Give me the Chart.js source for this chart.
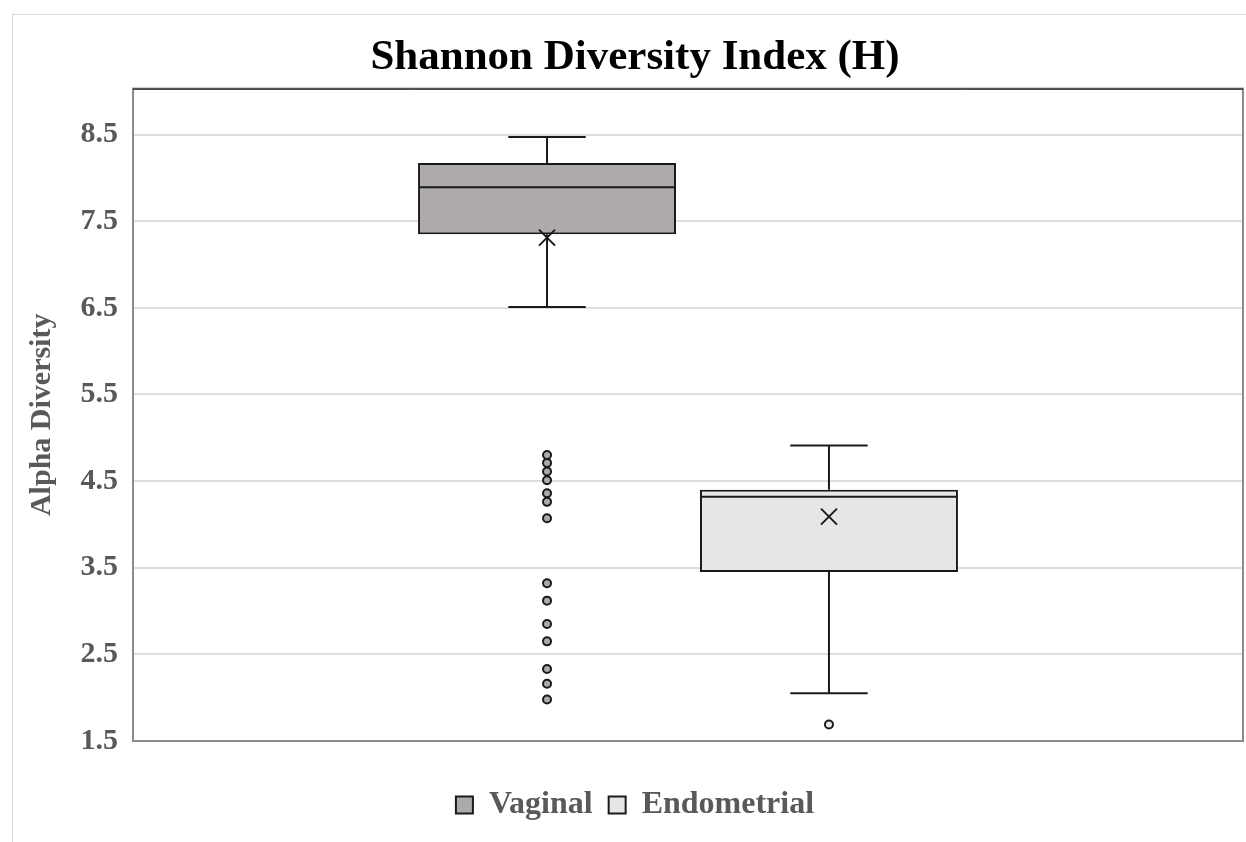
<!DOCTYPE html>
<html>
<head>
<meta charset="utf-8">
<script src="https://cdn.jsdelivr.net/npm/chart.js@4/dist/chart.umd.min.js"></script>
<style>
  html, body { margin: 0; padding: 0; background: #fff; overflow: hidden; }
  .frame { position: absolute; left: 12px; top: 14px; width: 1246px; height: 828px;
           border-left: 1px solid #d9d9d9; border-top: 1px solid #d9d9d9; }
  canvas { display: block; }
</style>
</head>
<body>
<div class="frame"><canvas id="boxChart"></canvas></div>
<script>
"use strict"

// values
const groups = ["Vaginal", "Endometrial"];
const fills = ["#aeaaaa", "#e7e6e6"];
const whiskerLow = [6.51, 2.05];
const q1 = [7.35, 3.45];
const medians = [7.89, 4.32];
const q3 = [8.17, 4.40];
const whiskerHigh = [8.47, 4.91];
const means = [7.31, 4.09];
const vaginalOutliers = [4.80, 4.71, 4.61, 4.51, 4.36, 4.26, 4.07, 3.32, 3.12, 2.85, 2.65, 2.33, 2.16, 1.98];
const endometrialOutliers = [1.69];
const outliers = [vaginalOutliers, endometrialOutliers];
const yTicks = [1.5, 2.5, 3.5, 4.5, 5.5, 6.5, 7.5, 8.5];

const serif = "'Liberation Serif', 'Times New Roman', serif";
const textGray = "#595959";

// whiskers, median, mean and outliers on top of the floating bars
const boxPlotParts = {
    id: 'boxPlotParts',
    afterDatasetsDraw(chart) {
        const ctx = chart.ctx;
        const yScale = chart.scales.y;
        chart.data.datasets.forEach((ds, i) => {
            const bar = chart.getDatasetMeta(i).data[0];
            const x = bar.x;
            const half = bar.width / 2;
            const cap = bar.width * 0.15;
            const py = v => yScale.getPixelForValue(v);

            ctx.save();
            ctx.strokeStyle = '#1a1a1a';
            ctx.lineWidth = 2;
            ctx.beginPath();
            ctx.moveTo(x, py(q3[i])); ctx.lineTo(x, py(whiskerHigh[i]));
            ctx.moveTo(x, py(q1[i])); ctx.lineTo(x, py(whiskerLow[i]));
            ctx.moveTo(x - cap, py(whiskerHigh[i])); ctx.lineTo(x + cap, py(whiskerHigh[i]));
            ctx.moveTo(x - cap, py(whiskerLow[i])); ctx.lineTo(x + cap, py(whiskerLow[i]));
            ctx.moveTo(x - half + 1, py(medians[i])); ctx.lineTo(x + half - 1, py(medians[i]));
            ctx.stroke();

            // mean marker
            const my = py(means[i]);
            ctx.beginPath();
            ctx.moveTo(x - 8, my - 8); ctx.lineTo(x + 8, my + 8);
            ctx.moveTo(x - 8, my + 8); ctx.lineTo(x + 8, my - 8);
            ctx.stroke();

            // outliers
            ctx.fillStyle = fills[i];
            outliers[i].forEach(v => {
                ctx.beginPath();
                ctx.arc(x, py(v), 4, 0, Math.PI * 2);
                ctx.fill();
                ctx.stroke();
            });
            ctx.restore();
        });
    }
};

const plotFrame = {
    id: 'plotFrame',
    afterDraw(chart) {
        const { left, top, right, bottom } = chart.chartArea;
        const ctx = chart.ctx;
        ctx.save();
        ctx.strokeStyle = '#8c8c8c';
        ctx.lineWidth = 2;
        ctx.strokeRect(left, top, right - left, bottom - top);
        ctx.strokeStyle = '#000';
        ctx.lineWidth = 1;
        ctx.beginPath();
        ctx.moveTo(left, top + 0.5); ctx.lineTo(right, top + 0.5);
        ctx.stroke();
        ctx.restore();
    }
};

new Chart("boxChart", {
    type: "bar",
    data: {
        labels: [""],
        datasets: groups.map((g, i) => ({
            label: g,
            data: [[q1[i], q3[i]]],
            backgroundColor: fills[i],
            borderColor: "#1a1a1a",
            borderWidth: 2,
            borderSkipped: false,
            categoryPercentage: 0.508,
            barPercentage: 0.915
        }))
    },
    options: {
        responsive: true,
        maintainAspectRatio: false,
        animation: false,
        layout: { padding: { left: 14, right: 16, top: 0, bottom: 12 } },
        plugins: {
            title: {
                display: true,
                text: "Shannon Diversity Index (H)",
                color: "#000",
                font: { family: serif, size: 43, weight: "bold", lineHeight: 1.2 },
                padding: { top: 17, bottom: 5 }
            },
            legend: {
                position: "bottom",
                labels: {
                    color: textGray,
                    font: { family: serif, size: 32, weight: "bold" },
                    boxWidth: 17,
                    boxHeight: 17,
                    padding: 16
                }
            },
            tooltip: { enabled: false }
        },
        scales: {
            x: {
                grid: { display: false },
                border: { display: false },
                ticks: { display: false },
                afterFit: scale => { scale.height = 32; }
            },
            y: {
                min: 1.5,
                max: 9.03,
                afterBuildTicks: axis => { axis.ticks = yTicks.map(v => ({ value: v })); },
                afterFit: scale => { scale.width = 106; },
                grid: { color: "#dedede", lineWidth: 2, drawTicks: false },
                border: { display: false },
                ticks: {
                    color: textGray,
                    padding: 15,
                    font: { family: serif, size: 30, weight: "bold" },
                    callback: v => Number(v).toFixed(1)
                },
                title: {
                    display: true,
                    text: "Alpha Diversity",
                    color: textGray,
                    font: { family: serif, size: 30, weight: "bold", lineHeight: 1.0 },
                    padding: { top: 0, bottom: 0 }
                }
            }
        }
    },
    plugins: [boxPlotParts, plotFrame]
});
</script>
</body>
</html>
